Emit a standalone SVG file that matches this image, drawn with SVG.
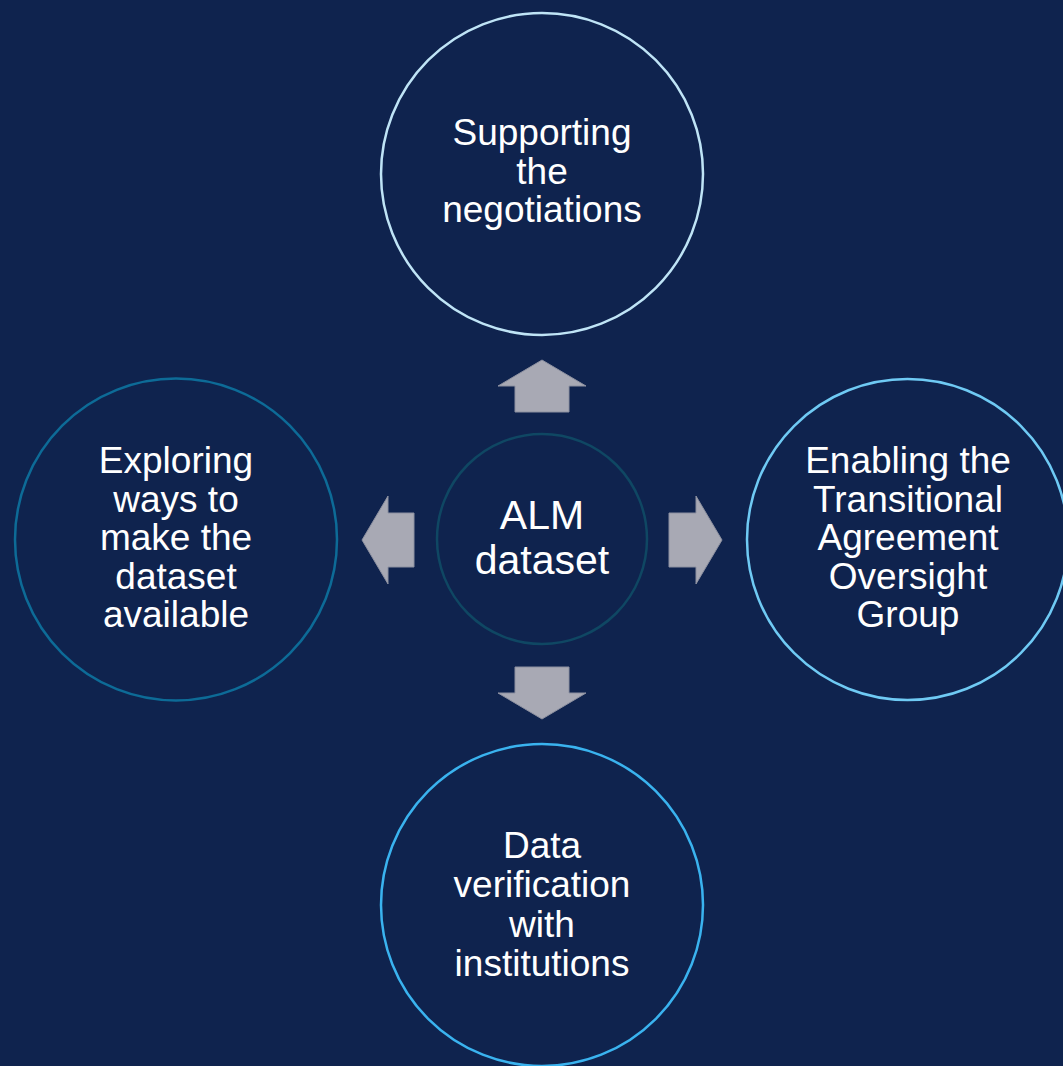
<svg xmlns="http://www.w3.org/2000/svg" width="1063" height="1066" viewBox="0 0 1063 1066">
<style>
.bg{fill:#0f234e}
.node{fill:#0f234e;stroke-width:2.5}
.lbl{font-family:"Liberation Sans",Arial,sans-serif;font-size:37px;fill:#ffffff;text-anchor:middle}
.ctr{font-size:41px}
.arrow{fill:#a8a9b4;stroke:#8c90a0;stroke-width:1}
</style>
<rect class="bg" x="0" y="0" width="1063" height="1066"/>
<g id="connectors">
<polygon class="arrow" points="542,360 586,386 569,386 569,412 515,412 515,386 498,386"/>
<polygon class="arrow" points="542,719 586,693 569,693 569,667 515,667 515,693 498,693"/>
<polygon class="arrow" points="362,540 388,496 388,513 414,513 414,567 388,567 388,584"/>
<polygon class="arrow" points="722,540 696,496 696,513 669,513 669,567 696,567 696,584"/>
</g>
<g id="node-center">
<circle class="node" cx="542" cy="539" r="105" stroke="#0f4763"/>
<text class="lbl ctr" x="542" y="529">ALM</text>
<text class="lbl ctr" x="542" y="574">dataset</text>
</g>
<g id="node-top">
<circle class="node" cx="542" cy="174" r="161" stroke="#bfe4f6"/>
<text class="lbl" x="542" y="145">Supporting</text>
<text class="lbl" x="542" y="183.5">the</text>
<text class="lbl" x="542" y="222">negotiations</text>
</g>
<g id="node-right">
<circle class="node" cx="907.5" cy="539.5" r="160.5" stroke="#6fcaf4"/>
<text class="lbl" x="908" y="473">Enabling the</text>
<text class="lbl" x="908" y="511.5">Transitional</text>
<text class="lbl" x="908" y="550">Agreement</text>
<text class="lbl" x="908" y="588.5">Oversight</text>
<text class="lbl" x="908" y="627">Group</text>
</g>
<g id="node-bottom">
<circle class="node" cx="542" cy="905" r="161" stroke="#3ab3ef"/>
<text class="lbl" x="542" y="858">Data</text>
<text class="lbl" x="542" y="897">verification</text>
<text class="lbl" x="542" y="936.5">with</text>
<text class="lbl" x="542" y="976">institutions</text>
</g>
<g id="node-left">
<circle class="node" cx="176" cy="539.5" r="161" stroke="#0d6b97"/>
<text class="lbl" x="176" y="473">Exploring</text>
<text class="lbl" x="176" y="511.5">ways to</text>
<text class="lbl" x="176" y="550">make the</text>
<text class="lbl" x="176" y="588.5">dataset</text>
<text class="lbl" x="176" y="627">available</text>
</g>
</svg>
